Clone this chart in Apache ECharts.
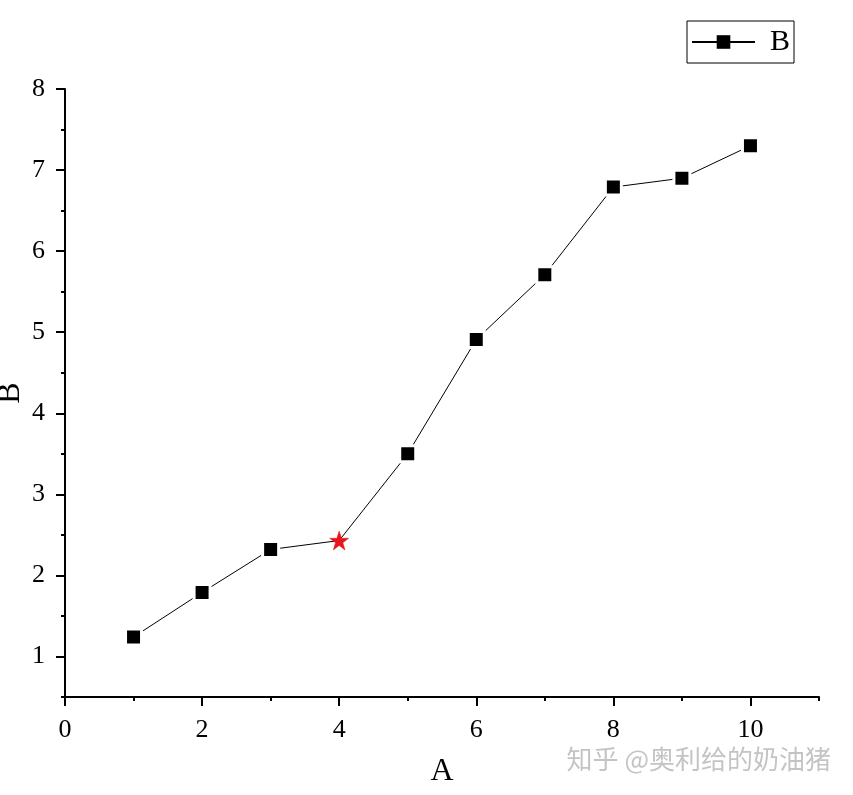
<!DOCTYPE html>
<html>
<head>
<meta charset="utf-8">
<script src="https://cdn.jsdelivr.net/npm/echarts@6/dist/echarts.min.js"></script>
<style>
html,body{margin:0;padding:0;background:#fff;}
#chart{width:853px;height:795px;}
</style>
</head>
<body>
<div id="chart"></div>
<script>
// ---- data ----
var xValues = [1, 2, 3, 4, 5, 6, 7, 8, 9, 10];
var yValues = [1.24, 1.79, 2.32, 2.43, 3.50, 4.91, 5.71, 6.79, 6.90, 7.30];
var highlightIndex = 3;
var xLabelValues = [0, 2, 4, 6, 8, 10];
var xMinorTickValues = [1, 3, 5, 7, 9, 11];
var yLabelValues = [1, 2, 3, 4, 5, 6, 7, 8];
var yMinorTickValues = [0.5, 1.5, 2.5, 3.5, 4.5, 5.5, 6.5, 7.5];
var seriesName = 'B';
var xName = 'A';
var yName = 'B';
var watermark = '知乎 @奥利给的奶油猪';

var starPath = 'path://M50,0 L61.8,35.4 L99,35.4 L68.8,57.3 L80.3,92.7 L50,70.8 L19.7,92.7 L31.2,57.3 L1,35.4 L38.2,35.4 Z';

var seriesData = xValues.map(function (x, i) {
  if (i === highlightIndex) {
    return {
      value: [x, yValues[i]],
      symbol: starPath,
      symbolSize: 19,
      itemStyle: { color: '#e8141c', borderColor: '#e8141c', borderWidth: 0.5 }
    };
  }
  return [x, yValues[i]];
});

var font = 'Liberation Serif';
var chart = echarts.init(document.getElementById('chart'));
chart.setOption({
  backgroundColor: '#fff',
  animation: false,
  grid: { left: 65, right: 34, top: 89, bottom: 98, containLabel: false, outerBoundsMode: 'none' },
  legend: {
    left: 687, top: 21,
    orient: 'horizontal',
    borderColor: '#000', borderWidth: 1, borderRadius: 0,
    padding: [6, 4, 6, 4],
    itemWidth: 63, itemHeight: 17,
    textStyle: { fontFamily: font, fontSize: 30, color: '#000', padding: [0, 0, 0, 10] },
    data: [{ name: seriesName, itemStyle: { borderWidth: 0 } }]
  },
  xAxis: [{
    type: 'value', min: 0, max: 11,
    name: xName, nameLocation: 'middle', nameGap: 59, nameMoveOverlap: false,
    nameTextStyle: { fontFamily: font, fontSize: 32, color: '#000' },
    axisLine: { show: true, onZero: false, lineStyle: { color: '#000', width: 2 } },
    axisTick: { show: true, inside: false, length: 9, lineStyle: { color: '#000', width: 2 }, customValues: xLabelValues },
    axisLabel: { fontFamily: font, fontSize: 26, color: '#000', margin: 20, customValues: xLabelValues },
    splitLine: { show: false }
  }, {
    type: 'value', min: 0, max: 11, position: 'bottom',
    axisLine: { show: false },
    axisTick: { show: true, inside: false, length: 4, lineStyle: { color: '#000', width: 2 }, customValues: xMinorTickValues },
    axisLabel: { show: false },
    splitLine: { show: false }
  }],
  yAxis: [{
    type: 'value', min: 0.5, max: 8,
    name: yName, nameLocation: 'middle', nameGap: 38, nameMoveOverlap: false,
    nameTextStyle: { fontFamily: font, fontSize: 32, color: '#000' },
    axisLine: { show: true, onZero: false, lineStyle: { color: '#000', width: 2 } },
    axisTick: { show: true, inside: false, length: 9, lineStyle: { color: '#000', width: 2 }, customValues: yLabelValues },
    axisLabel: { fontFamily: font, fontSize: 26, color: '#000', margin: 20, customValues: yLabelValues },
    splitLine: { show: false }
  }, {
    type: 'value', min: 0.5, max: 8, position: 'left',
    axisLine: { show: false },
    axisTick: { show: true, inside: false, length: 4, lineStyle: { color: '#000', width: 2 }, customValues: yMinorTickValues },
    axisLabel: { show: false },
    splitLine: { show: false }
  }],
  graphic: [{
    type: 'text', right: 22, top: 746,
    style: { text: watermark, font: '26px "Noto Sans CJK SC"', fill: '#c4c4c4' }
  }],
  series: [{
    name: seriesName,
    type: 'line',
    xAxisIndex: 0, yAxisIndex: 0,
    data: seriesData,
    symbol: 'rect', symbolSize: 16,
    lineStyle: { color: '#000', width: 1 },
    itemStyle: { color: '#000', borderColor: '#fff', borderWidth: 3 },
    emphasis: { disabled: true }
  }]
});
</script>
</body>
</html>
